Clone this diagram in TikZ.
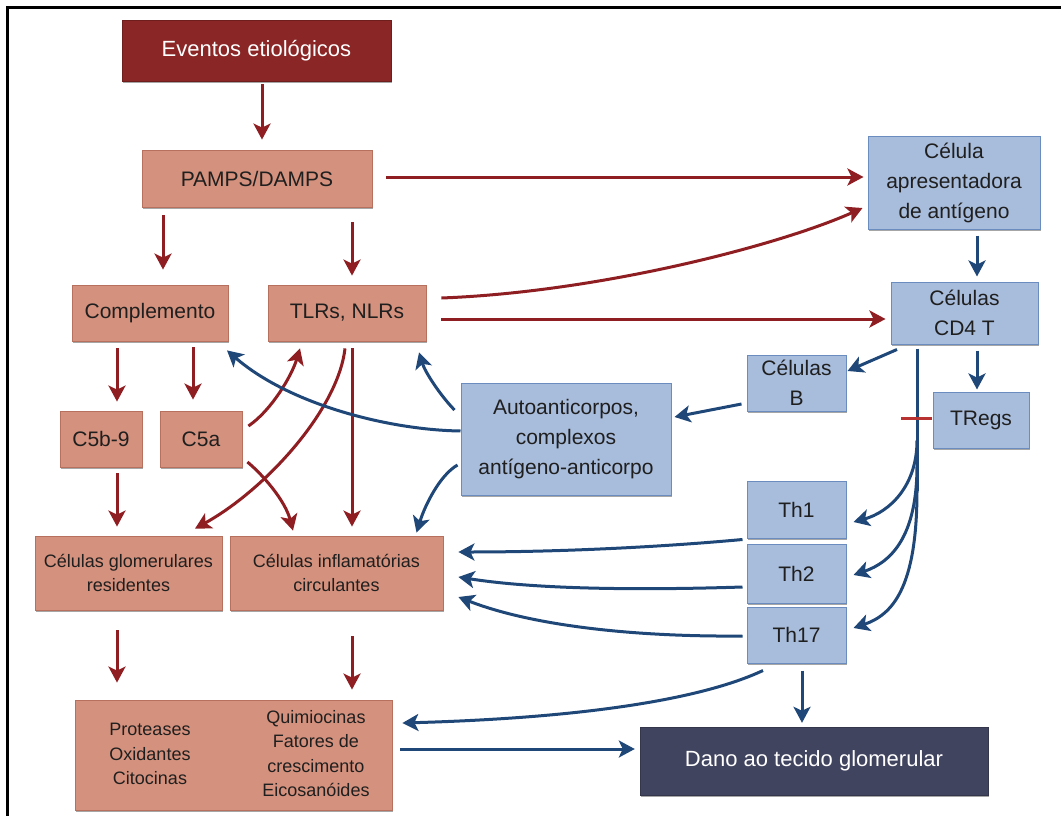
\documentclass[tikz,border=0pt]{standalone}
\usepackage{fontspec}
\setmainfont{Liberation Sans}
\usetikzlibrary{arrows.meta,calc,shadows}
\definecolor{dred}{HTML}{8B2626}
\definecolor{salmon}{HTML}{D4917D}
\definecolor{salmonb}{HTML}{B8705E}
\definecolor{lblue}{HTML}{A8BCDB}
\definecolor{lblueb}{HTML}{6A8CBF}
\definecolor{navy}{HTML}{41445F}
\definecolor{ared}{HTML}{8E1E22}
\definecolor{ablue}{HTML}{1F4778}
\definecolor{inhib}{HTML}{B83232}
\tikzset{
 box/.style={rectangle, inner sep=0pt, align=center, text=black!88, font=\fontsize{21}{30}\selectfont,
   drop shadow={shadow xshift=0.6pt, shadow yshift=-2.2pt, opacity=0.35, fill=black}},
 redbox/.style={box, fill=salmon, draw=salmonb, line width=0.8pt},
 bluebox/.style={box, fill=lblue, draw=lblueb, line width=1pt},
 tip/.style={-{Stealth[length=16pt,width=17pt,inset=4pt]}},
 ra/.style={draw=ared, line width=3pt, tip},
 ba/.style={draw=ablue, line width=3pt, tip},
 bline/.style={draw=ablue, line width=3pt},
 smalltxt/.style={align=center, inner sep=0pt, text=black!88, font=\fontsize{18}{24.5}\selectfont},
}
\begin{document}
\begin{tikzpicture}[x=1pt, y=-1pt]
\useasboundingbox (0,0) rectangle (1061,816);
% frame
\draw[line width=3pt, black] (7.5,816) -- (7.5,8) -- (1061,8);

% nodes
\node[box, fill=dred, draw=dred!80!black, text=white, minimum width=269pt, minimum height=61pt, font=\fontsize{22}{30}\selectfont] (ev) at (256.5,50.5) {Eventos etiológicos};
\node[redbox, minimum width=230pt, minimum height=57pt] (pamps) at (257,178.5) {PAMPS/DAMPS};
\node[redbox, minimum width=156pt, minimum height=56pt] (comp) at (150,313) {Complemento};
\node[redbox, minimum width=158pt, minimum height=56pt] (tlr) at (347,313) {TLRs, NLRs};
\node[redbox, minimum width=82pt, minimum height=56pt] (c5b) at (101,439) {C5b-9};
\node[redbox, minimum width=82pt, minimum height=56pt] (c5a) at (201,439) {C5a};
\node[redbox, minimum width=187pt, minimum height=74pt, font=\fontsize{18}{24.5}\selectfont] (glom) at (128.5,573) {Células glomerulares\\residentes};
\node[redbox, minimum width=213pt, minimum height=74pt, font=\fontsize{18}{24.5}\selectfont] (infl) at (336.5,573) {Células inflamatórias\\circulantes};
\node[redbox, minimum width=317pt, minimum height=110pt] (prot) at (233.5,755) {};
\node[smalltxt] (protL) at (150,754) {Proteases\\Oxidantes\\Citocinas};
\node[smalltxt] (protR) at (316,753.5) {Quimiocinas\\Fatores de\\crescimento\\Eicosanóides};

\node[bluebox, minimum width=172pt, minimum height=93pt] (apc) at (954,182.5) {Célula\\apresentadora\\de antígeno};
\node[bluebox, minimum width=147pt, minimum height=62pt] (cd4) at (964.5,313) {Células\\CD4 T};
\node[bluebox, minimum width=99pt, minimum height=56pt] (cb) at (796.5,383) {Células\\B};
\node[bluebox, minimum width=96pt, minimum height=56pt] (treg) at (981,420) {TRegs};
\node[bluebox, minimum width=210pt, minimum height=112pt] (auto) at (566,439) {Autoanticorpos,\\complexos\\antígeno-anticorpo};
\node[bluebox, minimum width=99pt, minimum height=57pt] (th1) at (796.5,509.5) {Th1};
\node[bluebox, minimum width=99pt, minimum height=59pt] (th2) at (796.5,573.5) {Th2};
\node[bluebox, minimum width=99pt, minimum height=56pt] (th17) at (796.5,635) {Th17};
\node[box, fill=navy, draw=navy!80!black, text=white, minimum width=348pt, minimum height=68pt, font=\fontsize{22}{30}\selectfont] (dano) at (814,761) {Dano ao tecido glomerular};

% red arrows
\draw[ra] ($(ev.south)+(5.5,3)$) -- ($(pamps.north)+(5,-10)$);
\draw[ra] ($(pamps.south)+(-94,8)$) -- ($(comp.north)+(13,-15)$);
\draw[ra] ($(pamps.south)+(95,15)$) -- ($(tlr.north)+(5,-9)$);
\draw[ra] ($(pamps.east)+(14,-1.5)$) -- ($(apc.west)+(-4,-5.5)$);
\draw[ra] ($(tlr.east)+(15,-15)$) .. controls (600,292) and (780,245) .. ($(apc.west)+(-5,25.5)$);
\draw[ra] ($(tlr.east)+(15,6)$) -- ($(cd4.west)+(-5,6)$);
\draw[ra] ($(comp.south)+(-33,7)$) -- ($(c5b.north)+(16,-9)$);
\draw[ra] ($(comp.south)+(43,6)$) -- ($(c5a.north)+(-8,-11)$);
\draw[ra] ($(c5b.south)+(16,6)$) -- ($(glom.north)+(-11.5,-9)$);
\draw[ra] ($(c5a.east)+(6,-13)$) .. controls (272,410) and (292,375) .. ($(tlr.south)+(-47,7)$);
\draw[ra] ($(c5a.east)+(5,23)$) .. controls (262,474) and (285,500) .. ($(infl.north)+(-43.5,-5)$);
\draw[ra] ($(tlr.south)+(-2,7)$) .. controls (338,410) and (265,490) .. ($(glom.north)+(66.5,-7)$);
\draw[ra] ($(tlr.south)+(5,7)$) -- ($(infl.north)+(15.5,-9)$);
\draw[ra] ($(glom.south)+(-11.5,20)$) -- ($(prot.north)+(-116.5,-17)$);
\draw[ra] ($(infl.south)+(15.5,26)$) -- ($(prot.north)+(118.5,-10)$);

% blue arrows
\draw[ba] ($(apc.south)+(23,6)$) -- ($(cd4.north)+(12.5,-5)$);
\draw[ba] ($(auto.west)+(0,-8)$) .. controls (390,430) and (290,405) .. ($(comp.south)+(77,9)$);
\draw[ba] ($(auto.west)+(-6,-29)$) .. controls (440,395) and (425,372) .. ($(tlr.south)+(72,11)$);
\draw[ba] ($(auto.west)+(-3,26)$) .. controls (440,475) and (425,505) .. ($(infl.north)+(80,-3)$);
\draw[ba] ($(cd4.south)+(-67.5,5)$) -- ($(cb.east)+(1,-12)$);
\draw[ba] ($(cb.west)+(-5,21)$) -- ($(auto.east)+(3,-22)$);
\draw[ba] ($(cd4.south)+(12.5,6)$) -- ($(treg.north)+(-4,-2)$);
\coordinate (tr0) at ($(cd4.south)+(-47.5,4)$);
\coordinate (tr1) at ($(tr0)+(0,92)$);
\coordinate (tr2) at ($(tr0)+(0,117)$);
\coordinate (tr3) at ($(tr0)+(0,142)$);
\draw[bline] (tr0) -- (tr3);
\draw[ba] (tr1) .. controls ($(tr1)+(0,45)$) and (890,512) .. ($(th1.east)+(7,12.5)$);
\draw[ba] (tr2) .. controls ($(tr2)+(0,70)$) and (892,562) .. ($(th2.east)+(7,1.5)$);
\draw[ba] (tr3) .. controls ($(tr3)+(0,98)$) and (892,615) .. ($(th17.east)+(7,-7)$);
\draw[draw=inhib, line width=3pt] ($(treg.west)+(-1,-2)$) -- ($(treg.west)+(-32,-2)$);
\draw[ba] ($(th1.south west)+(-4,1)$) .. controls (650,548) and (550,552) .. ($(infl.east)+(15,-21)$);
\draw[ba] ($(th2.west)+(-4,13.5)$) .. controls (650,590) and (540,590) .. ($(infl.east)+(15,4)$);
\draw[ba] ($(th17.west)+(-4,1)$) .. controls (630,637) and (530,625) .. ($(infl.east)+(15,24)$);
\draw[ba] ($(th17.south)+(-33.5,7)$) .. controls (700,700) and (580,718) .. ($(prot.east)+(10,-32)$);
\draw[ba] ($(th17.south)+(5.5,7)$) -- ($(dano.north)+(-12,-4)$);
\draw[ba] ($(prot.east)+(8,-6)$) -- ($(dano.west)+(-5,-12)$);
\end{tikzpicture}
\end{document}
